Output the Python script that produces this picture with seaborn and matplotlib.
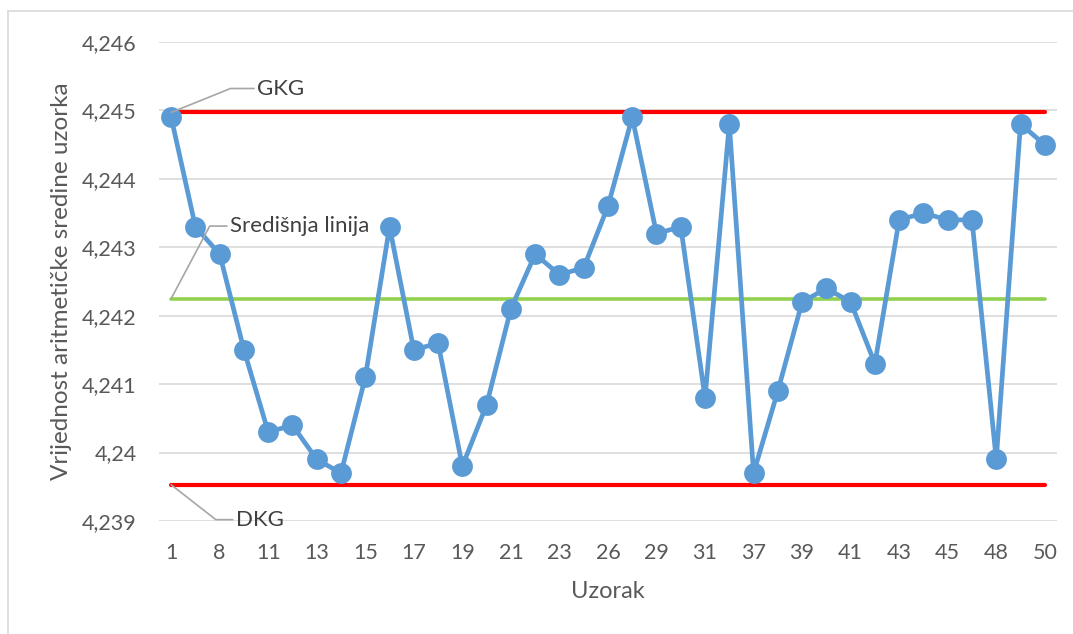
import numpy as np
import pandas as pd
import seaborn as sns
import matplotlib.pyplot as plt
from matplotlib.lines import Line2D

# sample numbers (every other label is shown on the axis)
uzorak = ['1', '5', '8', '10', '11', '12', '13', '14', '15', '16', '17', '18',
          '19', '20', '21', '22', '23', '25', '26', '28', '29', '30', '31', '34',
          '37', '38', '39', '40', '41', '42', '43', '44', '45', '47', '48', '49', '50']
sredina = [4.2449, 4.2433, 4.2429, 4.2415, 4.2403, 4.2404, 4.2399, 4.2397, 4.2411,
           4.2433, 4.2415, 4.2416, 4.2398, 4.2407, 4.2421, 4.2429, 4.2426, 4.2427,
           4.2436, 4.2449, 4.2432, 4.2433, 4.2408, 4.2448, 4.2397, 4.2409, 4.2422,
           4.2424, 4.2422, 4.2413, 4.2434, 4.2435, 4.2434, 4.2434, 4.2399, 4.2448,
           4.2445]
gkg = 4.24497
srednja = 4.24225
dkg = 4.23953
y_ticks = [4.239, 4.240, 4.241, 4.242, 4.243, 4.244, 4.245, 4.246]
y_tick_labels = ['4,239', '4,24', '4,241', '4,242', '4,243', '4,244', '4,245', '4,246']

df = pd.DataFrame({'idx': np.arange(len(uzorak)), 'uzorak': uzorak, 'sredina': sredina})
df['gkg'] = gkg
df['sl'] = srednja
df['dkg'] = dkg

sns.set_style('white')
plt.rcParams['font.family'] = ['Lato', 'DejaVu Sans']

fig = plt.figure(figsize=(10.73, 6.34), dpi=100)
ax = fig.add_axes([0.1482, 0.1782, 0.8368, 0.7556])

gray = '#595959'
for t in y_ticks:
    ax.axhline(t, color='#d9d9d9', lw=1.2, zorder=0)

sns.lineplot(data=df, x='idx', y='gkg', color='#ff0000', lw=3, ax=ax, zorder=2)
sns.lineplot(data=df, x='idx', y='sl', color='#92d050', lw=2.6, ax=ax, zorder=2)
sns.lineplot(data=df, x='idx', y='dkg', color='#ff0000', lw=3, ax=ax, zorder=2)
sns.lineplot(data=df, x='idx', y='sredina', color='#5b9bd5', lw=3.4, marker='o',
             markersize=15, markeredgewidth=0, ax=ax, zorder=3)

ax.set_xlim(-0.5, len(uzorak) - 0.5)
ax.set_ylim(4.239, 4.246)
ax.set_xticks(df['idx'][::2])
ax.set_xticklabels(df['uzorak'][::2])
ax.set_yticks(y_ticks)
ax.set_yticklabels(y_tick_labels)
ax.tick_params(axis='both', length=0, labelsize=15.5, colors=gray)
ax.tick_params(axis='x', pad=16)
ax.tick_params(axis='y', pad=16)
for s in ax.spines.values():
    s.set_visible(False)

ax.set_xlabel('Uzorak', fontsize=17, color=gray, labelpad=13)
ax.set_ylabel('Vrijednost aritmetičke sredine uzorka', fontsize=17.5, color=gray, labelpad=7)

# data labels for control lines
lead = dict(arrowstyle='-', color='#a6a6a6', lw=1.2, shrinkA=0, shrinkB=0)
ax.annotate('GKG', xy=(0, gkg), xytext=(3.55, 4.24532), fontsize=16, color='#404040',
            va='center', arrowprops=dict(lead, connectionstyle='angle,angleA=0,angleB=22,rad=0'))
ax.annotate('Središnja linija', xy=(0, srednja), xytext=(2.43, 4.24331), fontsize=16,
            color='#404040', va='center',
            arrowprops=dict(lead, connectionstyle='angle,angleA=0,angleB=62,rad=0'))
ax.annotate('DKG', xy=(0, dkg), xytext=(2.67, 4.23902), fontsize=16, color='#404040',
            va='center', arrowprops=dict(lead, connectionstyle='angle,angleA=0,angleB=-38,rad=0'))

# chart area border (left and top)
fig.add_artist(Line2D([7.5 / 1073, 7.5 / 1073], [0, 1 - 11 / 634], color='#d9d9d9', lw=1.2))
fig.add_artist(Line2D([7.5 / 1073, 1], [1 - 11 / 634, 1 - 11 / 634], color='#d9d9d9', lw=1.2))

fig.savefig('out.png', dpi=100)
